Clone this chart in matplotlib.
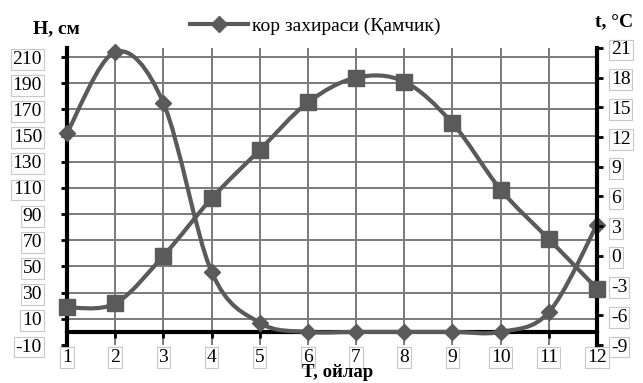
import matplotlib
matplotlib.use("Agg")
import matplotlib.pyplot as plt
import numpy as np
from matplotlib.path import Path
from matplotlib.patches import PathPatch
from matplotlib.lines import Line2D

plt.rcParams['font.family'] = ['Liberation Serif', 'DejaVu Serif']

months = [1, 2, 3, 4, 5, 6, 7, 8, 9, 10, 11, 12]
snow_h = [152, 214, 175, 46, 7, 0, 0, 0, 0, 0, 15, 82]          # H, см (left)
temp_t = [-5.2, -4.8, 0.0, 5.8, 10.7, 15.5, 18.0, 17.6, 13.4, 6.7, 1.7, -3.3]  # t, °C (right)
left_ticks = [-10, 10, 30, 50, 70, 90, 110, 130, 150, 170, 190, 210]
right_ticks = [-9, -6, -3, 0, 3, 6, 9, 12, 15, 18, 21]
legend_label = "кор захираси (Қамчик)"

LINE = '#5a5a5a'
GRID = '#7a7a7a'


def smooth_path(x, y):
    pts = np.column_stack([x, y]).astype(float)
    n = len(pts)
    verts = [pts[0]]
    codes = [Path.MOVETO]
    for i in range(n - 1):
        p_prev = pts[i - 1] if i > 0 else pts[i]
        p_next2 = pts[i + 2] if i + 2 < n else pts[i + 1]
        c1 = pts[i] + (pts[i + 1] - p_prev) / 6.0
        c2 = pts[i + 1] - (p_next2 - pts[i]) / 6.0
        verts += [c1, c2, pts[i + 1]]
        codes += [Path.CURVE4] * 3
    return Path(verts, codes)


fig = plt.figure(figsize=(6.43, 3.83), dpi=100)
ax = fig.add_axes([67 / 643, 1 - 345 / 383, (597 - 67) / 643, (345 - 48) / 383])
ax2 = ax.twinx()

ax.set_xlim(months[0], months[-1])
ax.set_ylim(-10, 217)
ax2.set_ylim(-9, 21)

# grid
ax.set_yticks(left_ticks)
ax.set_yticklabels([str(v) for v in left_ticks])
for v in left_ticks[1:]:
    ax.axhline(v, color=GRID, lw=1.4, zorder=1)
for m in months[1:-1]:
    ax.axvline(m, color=GRID, lw=1.4, zorder=1)

# spines
for s in ['top']:
    ax.spines[s].set_visible(False)
    ax2.spines[s].set_visible(False)
ax.spines['bottom'].set_position(('data', 0))
ax.spines['bottom'].set_linewidth(3)
ax.spines['left'].set_linewidth(3)
ax2.spines['right'].set_linewidth(3)
ax2.spines['left'].set_visible(False)
ax2.spines['bottom'].set_visible(False)
ax.spines['right'].set_visible(False)

ax.set_xticks(months)
ax.set_xticklabels([str(m) for m in months])

box = dict(boxstyle='square,pad=0.1', fc='white', ec='#c8c8c8', lw=0.8)
ax.tick_params(axis='x', direction='out', length=4, width=2, pad=8, labelsize=14)
ax.tick_params(axis='y', direction='out', length=4, width=2, pad=14, labelsize=14)
ax2.set_yticks(right_ticks)
ax2.set_yticklabels([str(v) for v in right_ticks])
ax2.tick_params(axis='y', direction='out', length=4, width=2, pad=6, labelsize=14)
for lab in ax.get_xticklabels() + ax.get_yticklabels() + ax2.get_yticklabels():
    lab.set_bbox(box)

# snow series (left axis)
ax.add_patch(PathPatch(smooth_path(months, snow_h), fill=False, ec=LINE, lw=3,
                       transform=ax.transData, zorder=4, clip_on=False))
ax.plot(months, snow_h, linestyle='none', marker='D', ms=8, color=LINE,
        zorder=5, clip_on=False)

# temperature series (right axis)
ax2.add_patch(PathPatch(smooth_path(months, temp_t), fill=False, ec=LINE, lw=3,
                        transform=ax2.transData, zorder=4, clip_on=False))
ax2.plot(months, temp_t, linestyle='none', marker='s', ms=12, color=LINE,
         zorder=5, clip_on=False)

# axis titles
fig.text(56 / 643, 1 - 29 / 383, "H, см", ha='center', va='center',
         fontsize=14, fontweight='bold')
fig.text(614 / 643, 1 - 22 / 383, "t, °C", ha='center', va='center',
         fontsize=14, fontweight='bold')
fig.text(338 / 643, 1 - 381 / 383, "T, ойлар", ha='center', va='bottom',
         fontsize=13.5, fontweight='bold')

# legend
handle = Line2D([], [], color=LINE, lw=3, marker='D', ms=8)
fig.legend([handle], [legend_label], loc='center', bbox_to_anchor=(315 / 643, 1 - 26 / 383),
           frameon=False, fontsize=14, handlelength=3, handletextpad=0.2)

fig.savefig("out.png", dpi=100)
